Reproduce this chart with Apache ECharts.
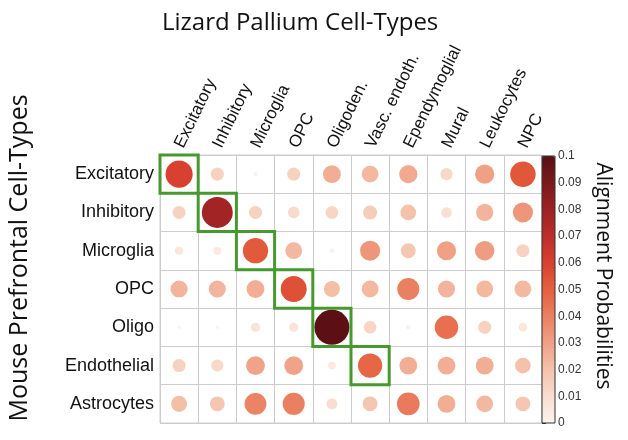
<!DOCTYPE html>
<html>
<head>
<meta charset="utf-8">
<script src="https://cdn.jsdelivr.net/npm/echarts@6/dist/echarts.min.js"></script>
<style>
  html, body { margin: 0; padding: 0; background: #fff; }
  #chart { width: 628px; height: 440px; }
</style>
</head>
<body>
<div id="chart"></div>
<script>
// lizard (columns) and mouse (rows) cell types
var lizardTypes = ['Excitatory', 'Inhibitory', 'Microglia', 'OPC', 'Oligoden.', 'Vasc. endoth.', 'Ependymoglial', 'Mural', 'Leukocytes', 'NPC'];
var mouseTypes = ['Excitatory', 'Inhibitory', 'Microglia', 'OPC', 'Oligo', 'Endothelial', 'Astrocytes'];

// alignment probabilities, one row per mouse type
var excitatoryRow  = [0.060, 0.014, 0.0013, 0.014, 0.026, 0.023, 0.027, 0.012, 0.030, 0.053];
var inhibitoryRow  = [0.014, 0.078, 0.014, 0.011, 0.013, 0.016, 0.020, 0.009, 0.024, 0.033];
var microgliaRow   = [0.006, 0.005, 0.052, 0.023, 0.0015, 0.033, 0.018, 0.030, 0.031, 0.014];
var opcRow         = [0.024, 0.024, 0.026, 0.055, 0.021, 0.023, 0.040, 0.024, 0.023, 0.023];
var oligoRow       = [0.001, 0.001, 0.007, 0.007, 0.100, 0.013, 0.0015, 0.045, 0.014, 0.006];
var endothelialRow = [0.014, 0.012, 0.029, 0.029, 0.005, 0.048, 0.026, 0.026, 0.026, 0.020];
var astrocytesRow  = [0.021, 0.018, 0.039, 0.040, 0.010, 0.018, 0.042, 0.026, 0.023, 0.018];

// matched cell types that get a green box: [column, row]
var matchedCells = [[0, 0], [1, 1], [2, 2], [3, 3], [4, 4], [5, 5]];

var colorTicks = [0, 0.1, 0.01];  // min, max, interval
// colour ramp sampled off the colour bar, 0 -> 0.1
var ramp = ['#fdf3ee', '#f9ddd0', '#f4c2ab', '#efa085', '#ea8062', '#e5603f',
            '#d8412f', '#bc2e2a', '#9c2224', '#7a1a1c', '#5c0f14'];

var rows = [excitatoryRow, inhibitoryRow, microgliaRow, opcRow, oligoRow, endothelialRow, astrocytesRow];
var points = [];
rows.forEach(function (r, j) {
  r.forEach(function (v, i) {
    points.push([i, j, v]);
  });
});

var chart = echarts.init(document.getElementById('chart'), null, {renderer: 'canvas'});

var gridLeft = 160, gridTop = 155, gridW = 382, gridH = 268;

chart.setOption({
  animation: false,
  textStyle: {fontFamily: 'Liberation Sans'},
  title: {
    text: 'Lizard Pallium Cell-Types',
    left: 157, top: 6,
    textStyle: {fontFamily: 'Open Sans', fontSize: 24, fontWeight: 'normal', color: '#111'}
  },
  graphic: [
    {
      type: 'text', x: 7, y: 258, rotation: Math.PI / 2,
      style: {text: 'Mouse Prefrontal Cell-Types', font: '25px "Open Sans"', fill: '#111',
              textAlign: 'center', textVerticalAlign: 'top'}
    },
    {
      type: 'text', x: 613, y: 276, rotation: -Math.PI / 2,
      style: {text: 'Alignment Probabilities', font: '21px "Open Sans"', fill: '#111',
              textAlign: 'center', textVerticalAlign: 'top'}
    }
  ],
  grid: [
    {left: gridLeft, top: gridTop, width: gridW, height: gridH, show: true,
     borderColor: '#cccccc', borderWidth: 1},
    {left: 542, top: 156, width: 13, height: 267, show: true,
     borderColor: '#333', borderWidth: 1, backgroundColor: 'transparent', z: 10}
  ],
  xAxis: [
    {
      type: 'category', data: lizardTypes, position: 'top', gridIndex: 0,
      axisLine: {show: false}, axisTick: {show: false},
      splitLine: {show: true, lineStyle: {color: '#cccccc', width: 1}},
      axisLabel: {rotate: -64, fontSize: 17, color: '#111', margin: 8, interval: 0}
    },
    {type: 'value', gridIndex: 1, show: false}
  ],
  yAxis: [
    {
      type: 'category', data: mouseTypes, inverse: true, gridIndex: 0,
      axisLine: {show: false}, axisTick: {show: false},
      splitLine: {show: true, lineStyle: {color: '#cccccc', width: 1}},
      axisLabel: {fontSize: 18, color: '#111', margin: 6, interval: 0}
    },
    {
      type: 'value', gridIndex: 1, position: 'right',
      min: colorTicks[0], max: colorTicks[1], interval: colorTicks[2],
      splitLine: {show: false},
      axisLine: {show: false},
      axisTick: {show: true, length: 4, lineStyle: {color: '#333'}},
      axisLabel: {fontSize: 12, color: '#333', margin: 3,
                  formatter: function (v) { return +v.toFixed(2) + ''; }}
    }
  ],
  visualMap: {
    type: 'continuous',
    seriesIndex: 0,
    dimension: 2,
    min: colorTicks[0], max: colorTicks[1],
    left: 542, top: 156,
    itemWidth: 13, itemHeight: 267,
    padding: 0,
    calculable: false,
    text: null,
    showLabel: false,
    inRange: {color: ramp}
  },
  series: [
    {
      type: 'scatter',
      xAxisIndex: 0, yAxisIndex: 0,
      data: points,
      symbolSize: function (d) { return 35 * Math.sqrt(d[2] / 0.1); },
      itemStyle: {opacity: 1}
    },
    {
      type: 'custom',
      xAxisIndex: 0, yAxisIndex: 0,
      data: matchedCells,
      z: 5,
      renderItem: function (params, api) {
        var c = api.coord([api.value(0), api.value(1)]);
        var s = api.size([1, 1]);
        return {
          type: 'rect',
          shape: {x: c[0] - s[0] / 2, y: c[1] - s[1] / 2, width: s[0], height: s[1]},
          style: {fill: 'none', stroke: '#45992f', lineWidth: 3}
        };
      }
    }
  ]
});
</script>
</body>
</html>
